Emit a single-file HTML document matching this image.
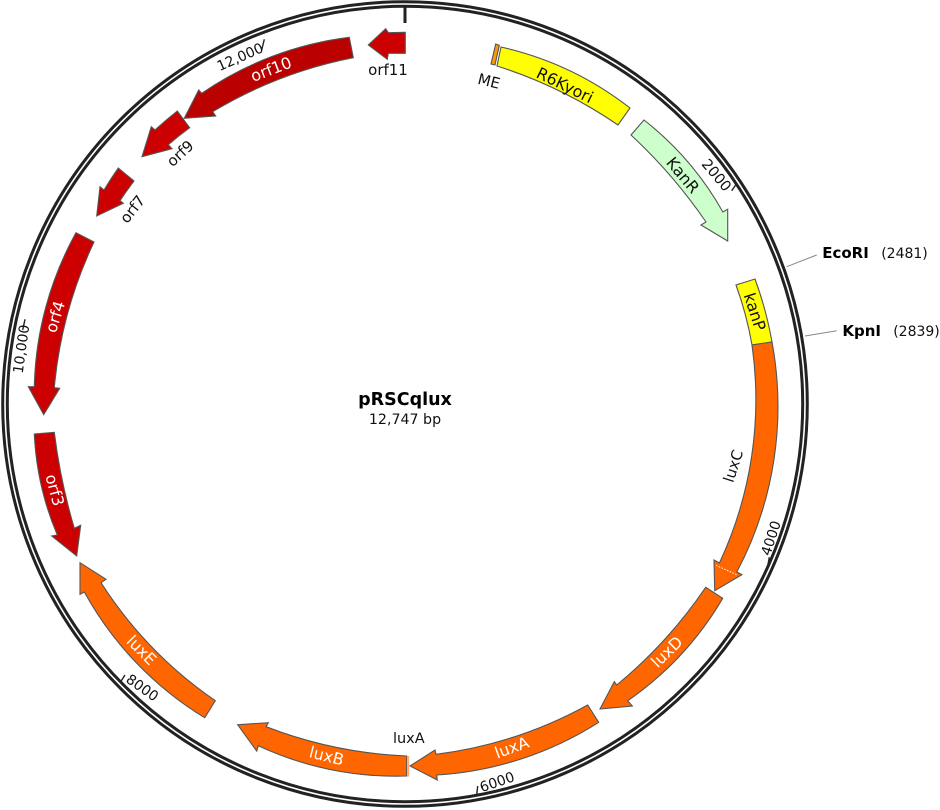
<!DOCTYPE html>
<html><head><meta charset="utf-8"><title>pRSCqlux</title>
<style>
html,body{margin:0;padding:0;background:#fff;width:940px;height:810px;overflow:hidden}
svg{display:block}
text{font-family:"DejaVu Sans","Liberation Sans",sans-serif;font-size:14px;fill:#111;text-anchor:middle}
.l{font-size:16px}
.m{font-size:15px}
.w{fill:#fff;font-size:16px}
.f{stroke:#555;stroke-width:1.1;stroke-linejoin:miter}
.t{stroke:#222;stroke-width:1.4;fill:none}
</style></head><body>
<svg width="940" height="810" viewBox="0 0 940 810" xmlns="http://www.w3.org/2000/svg">
<circle cx="405" cy="404" r="400" fill="none" stroke="#222" stroke-width="7.6"/>
<circle cx="405" cy="404" r="400" fill="none" stroke="#fff" stroke-width="1.6"/>
<line x1="405" y1="6" x2="405" y2="23" stroke="#222" stroke-width="3"/>

<line class="t" x1="735.7" y1="185" x2="731.7" y2="190.7"/>
<line class="t" x1="769.3" y1="557.3" x2="767.3" y2="568.3"/>
<line class="t" x1="477.7" y1="786" x2="476.7" y2="795"/>
<line class="t" x1="125" y1="675" x2="120" y2="682.7"/>
<line class="t" x1="25" y1="319.3" x2="22.7" y2="330"/>
<line class="t" x1="264.3" y1="39.3" x2="261.7" y2="50"/>

<line x1="786.7" y1="266.7" x2="816.7" y2="255" stroke="#888" stroke-width="1"/>
<line x1="805" y1="336" x2="836.7" y2="330.7" stroke="#888" stroke-width="1"/>

<!-- ME -->
<path class="f" fill="#ff9900" d="M495.7 44L499.3 45.3L495 65L491 64Z"/>
<!-- R6Kyori -->
<path class="f" fill="#ffff00" d="M501 47A326 326 0 0 1 630 108L618 125A462 462 0 0 0 497 66Z"/>
<!-- KanR -->
<path class="f" fill="#ccffcc" d="M644 120A310 310 0 0 1 722.9 212L727.7 209.3L727.7 241L701 225L706 222A517 517 0 0 0 631 135Z"/>
<!-- kanP -->
<path class="f" fill="#ffff00" d="M755 279A372 372 0 0 1 772 342L752 345A352 352 0 0 0 736 285Z"/>
<!-- luxC -->
<path class="f" fill="#ff6600" d="M772 342A353 353 0 0 1 736.8 572L742 574.7L714.7 590.7L714 560L719.4 563A385 385 0 0 0 752 345Z"/>
<line x1="716" y1="565.3" x2="736.5" y2="574.6" stroke="#fff" stroke-width="1" stroke-dasharray="1.5 1.5"/>
<!-- luxD -->
<path class="f" fill="#ff6600" d="M722.7 598.3A322 322 0 0 1 627.7 700.7L632.3 706L600 709L614.3 681.7L616.7 685A463 463 0 0 0 705.7 587.3Z"/>
<!-- luxA -->
<path class="f" fill="#ff6600" d="M598.7 722.3A338 338 0 0 1 436.7 775L437.3 780L410 766L435 750L436 754.3A424 424 0 0 0 587.7 705Z"/>
<line x1="408.4" y1="756" x2="408.4" y2="776.5" stroke="#ffa877" stroke-width="1.4"/>
<!-- luxB -->
<path class="f" fill="#ff6600" d="M406.7 776A328 328 0 0 1 258.3 745.7L256.7 751L237.7 724.7L268.3 722.7L266 726.7A441 441 0 0 0 406.7 756Z"/>
<!-- luxE -->
<path class="f" fill="#ff6600" d="M204.7 717.7A338 338 0 0 1 84.3 592L80 594.3L80 562.7L106 579.3L101 582.7A415 415 0 0 0 215.3 700.7Z"/>
<!-- orf3 -->
<path class="f" fill="#cc0000" d="M34.3 434A292 292 0 0 0 57.3 535L51.7 536L76.7 556L80.7 525.3L74.3 528.3A600 600 0 0 1 54.3 432.3Z"/>
<!-- orf4 -->
<path class="f" fill="#cc0000" d="M76 232.7A333 333 0 0 0 34.3 386.7L28.3 386.7L43.7 414.7L59.7 388.3L54.3 387.7A432 432 0 0 1 94 242Z"/>
<!-- orf7 -->
<path class="f" fill="#cc0000" d="M118.3 168A372 372 0 0 0 104 190L100 186.7L96.7 216L123.3 203.3L120 200.7A352 352 0 0 1 134 181Z"/>
<!-- orf9 -->
<path class="f" fill="#cc0000" d="M177.3 111A372 372 0 0 0 155 130L151.3 126.7L142 156.7L172 148.7L168.3 144.7A352 352 0 0 1 189.7 127.7Z"/>
<!-- orf10 -->
<path class="f" fill="#bb0000" d="M349.3 37.3A332 332 0 0 0 201.7 93.3L198.7 90L184.3 118.3L215.7 116L212.7 111.7A436 436 0 0 1 353.3 57.7Z"/>
<!-- orf11 -->
<path class="f" fill="#cc0000" d="M405.3 32.3L388.3 32.7L385.7 28.7L368.3 45L387.3 59.3L388.3 53.3L405.3 53.3Z"/>

<text x="405" y="405" style="font-size:17.5px;font-weight:bold;fill:#000">pRSCqlux</text>
<text x="405" y="424" style="font-size:14.2px">12,747 bp</text>

<text x="845.5" y="258" style="font-size:15px;font-weight:bold;fill:#000">EcoRI</text>
<text x="904.5" y="258">(2481)</text>
<text x="861.7" y="336" style="font-size:15px;font-weight:bold;fill:#000">KpnI</text>
<text x="916.5" y="336">(2839)</text>

<text class="m" transform="translate(388,75)">orf11</text>
<text class="m" transform="translate(489,81) rotate(14)" dy=".36em">ME</text>
<text class="l" transform="translate(565,85) rotate(26)" dy=".36em">R6Kyori</text>
<text class="l" transform="translate(683,175) rotate(50)" dy=".36em">KanR</text>
<text transform="translate(716.7,175) rotate(50)" dy=".36em" style="font-size:14.5px">2000</text>
<text class="l" transform="translate(755,311.7) rotate(72)" dy=".36em">kanP</text>
<text class="m" transform="translate(733,466) rotate(-72)" dy=".36em">luxC</text>
<text transform="translate(770.7,538) rotate(-72)" dy=".36em">4000</text>
<text class="w" transform="translate(666.7,651.7) rotate(-44)" dy=".36em">luxD</text>
<text class="w" transform="translate(511.7,747.3) rotate(-20)" dy=".36em">luxA</text>
<text x="408.8" y="743" style="font-size:14.5px">luxA</text>
<text transform="translate(497,781.7) rotate(-19)" dy=".36em">6000</text>
<text class="w" transform="translate(326.7,755.7) rotate(14)" dy=".36em">luxB</text>
<text class="w" transform="translate(141.7,650) rotate(45)" dy=".36em">luxE</text>
<text transform="translate(142.5,687.5) rotate(35)" dy=".36em">8000</text>
<text class="w" transform="translate(55,490) rotate(75)" dy=".36em">orf3</text>
<text class="w" transform="translate(55,316.7) rotate(-73)" dy=".36em">orf4</text>
<text transform="translate(21,349) rotate(-82)" dy=".36em">10,000</text>
<text transform="translate(240,56.7) rotate(-24)" dy=".36em">12,000</text>
<text class="w" transform="translate(271,69) rotate(-21)" dy=".36em">orf10</text>
<text class="m" transform="translate(180,153.3) rotate(-43)" dy=".36em">orf9</text>
<text class="m" transform="translate(132.3,209) rotate(-52)" dy=".36em">orf7</text>
</svg>
</body></html>
